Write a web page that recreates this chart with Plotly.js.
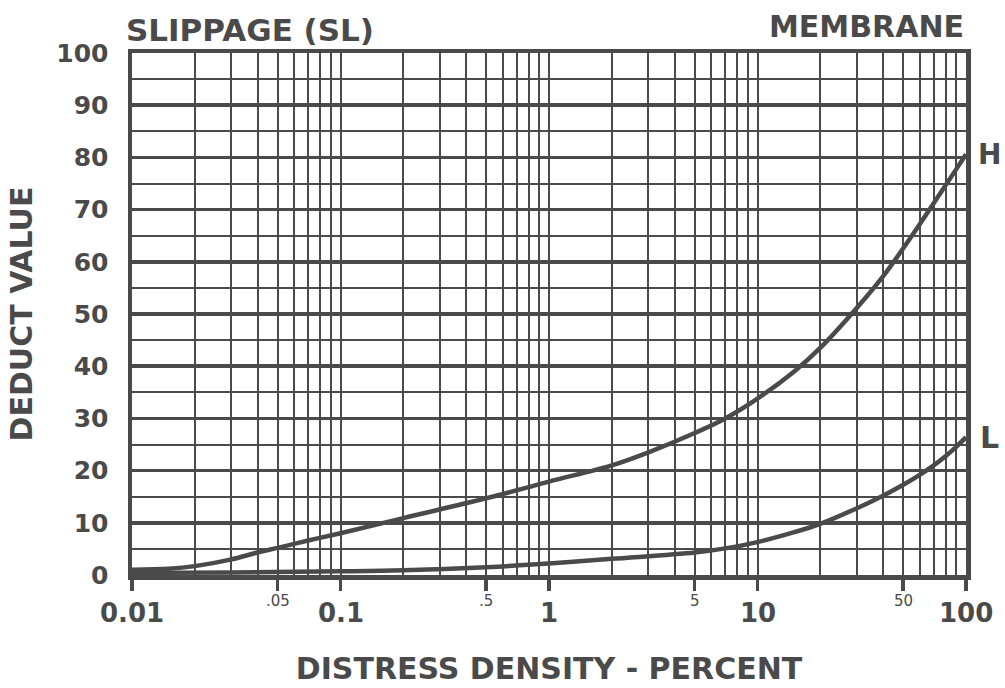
<!DOCTYPE html>
<html>
<head>
<meta charset="utf-8">
<script src="https://cdn.plot.ly/plotly-3.0.1.min.js"></script>
<style>
  html, body { margin: 0; padding: 0; background: #ffffff; }
  #chart { width: 1005px; height: 688px; }
</style>
</head>
<body>
<div id="chart"></div>
<script>
// ---- Data ----
const highDensity = [0.01, 0.015, 0.02, 0.03, 0.04, 0.05, 0.07, 0.1, 0.2, 0.5, 1, 2, 3, 5, 7, 10, 15, 20, 30, 40, 50, 60, 70, 80, 90, 100];
const highDeduct  = [1.0, 1.2, 1.7, 3.0, 4.3, 5.2, 6.6, 8.0, 10.9, 14.7, 17.9, 21.0, 23.5, 27.2, 30.0, 33.8, 39.0, 43.5, 51.2, 57.2, 62.6, 67.2, 71.2, 74.7, 77.8, 80.6];

const lowDensity = [0.01, 0.03, 0.1, 0.2, 0.5, 1, 2, 5, 7, 10, 15, 20, 30, 40, 50, 60, 70, 80, 90, 100];
const lowDeduct  = [0.4, 0.5, 0.7, 0.9, 1.5, 2.2, 3.1, 4.3, 5.1, 6.3, 8.2, 9.8, 12.8, 15.2, 17.3, 19.2, 21.0, 22.8, 24.6, 26.4];

const seriesNames = ['H', 'L'];

const xTickVals  = [0.01, 0.05, 0.1, 0.5, 1, 5, 10, 50, 100];
const xTickText  = ['0.01', '.05', '0.1', '.5', '1', '5', '10', '50', '100'];
const xTickMajor = [true, false, true, false, true, false, true, false, true];

const yTickVals = [0, 10, 20, 30, 40, 50, 60, 70, 80, 90, 100];
const yTickText = ['0', '10', '20', '30', '40', '50', '60', '70', '80', '90', '100'];

const chartTitle  = 'SLIPPAGE (SL)';
const chartSub    = 'MEMBRANE';
const xTitle      = 'DISTRESS DENSITY - PERCENT';
const yTitle      = 'DEDUCT VALUE';

// ---- Styling ----
const INK = '#4a4a4a';
const FONT = 'DejaVu Sans, Liberation Sans, sans-serif';

// minor log grid positions (2..9 in every decade, except labelled ones)
const decades = [0.01, 0.1, 1, 10];
const minorMult = [2, 3, 4, 6, 7, 8, 9];
const xMinor = [];
decades.forEach(d => minorMult.forEach(m => xMinor.push(+(d * m).toPrecision(3))));

const traces = [
  { x: highDensity, y: highDeduct, name: seriesNames[0], mode: 'lines',
    line: { color: INK, width: 4.5, shape: 'spline', smoothing: 1 }, hoverinfo: 'x+y' },
  { x: lowDensity, y: lowDeduct, name: seriesNames[1], mode: 'lines',
    line: { color: INK, width: 4.5, shape: 'spline', smoothing: 1 }, hoverinfo: 'x+y' }
];

const annotations = [];
xTickVals.forEach((v, i) => {
  const major = xTickMajor[i];
  annotations.push({
    xref: 'x', yref: 'paper', x: Math.log10(v), y: 0,
    yanchor: 'middle', xanchor: 'center',
    yshift: major ? -38 : -26,
    text: major ? '<b>' + xTickText[i] + '</b>' : xTickText[i],
    showarrow: false,
    font: { family: FONT, size: major ? 26 : 15, color: INK }
  });
});
annotations.push({
  xref: 'paper', yref: 'paper', x: 1, y: 1, xanchor: 'right', yanchor: 'bottom', yshift: 7,
  text: '<b>' + chartSub + '</b>', showarrow: false,
  font: { family: FONT, size: 30, color: INK }
});
annotations.push({
  xref: 'paper', yref: 'y', x: 1, y: highDeduct[highDeduct.length - 1], xanchor: 'left', yanchor: 'middle', xshift: 10,
  text: '<b>' + seriesNames[0] + '</b>', showarrow: false,
  font: { family: FONT, size: 28, color: INK }
});
annotations.push({
  xref: 'paper', yref: 'y', x: 1, y: lowDeduct[lowDeduct.length - 1], xanchor: 'left', yanchor: 'middle', xshift: 12,
  text: '<b>' + seriesNames[1] + '</b>', showarrow: false,
  font: { family: FONT, size: 30, color: INK }
});

const layout = {
  width: 1005, height: 688,
  paper_bgcolor: '#ffffff', plot_bgcolor: '#ffffff',
  margin: { l: 132, r: 39, t: 53, b: 113, pad: 0 },
  showlegend: false,
  title: {
    text: '<b>' + chartTitle + '</b>',
    xref: 'container', yref: 'container',
    x: 126 / 1005, xanchor: 'left',
    y: 1 - 30 / 688, yanchor: 'middle',
    font: { family: FONT, size: 31, color: INK }
  },
  xaxis: {
    type: 'log', range: [-2, 2], autorange: false,
    tickmode: 'array', tickvals: xTickVals, ticktext: xTickText,
    showticklabels: false,
    ticks: 'outside', ticklen: 11, tickwidth: 3.5, tickcolor: INK,
    showgrid: true, gridcolor: INK, gridwidth: 2,
    minor: { tickmode: 'array', tickvals: xMinor, showgrid: true, gridcolor: INK, gridwidth: 2, ticks: '' },
    showline: true, linecolor: INK, linewidth: 4.5, mirror: true,
    zeroline: false, automargin: false,
    title: { text: '<b>' + xTitle + '</b>', font: { family: FONT, size: 30, color: INK }, standoff: 70 }
  },
  yaxis: {
    range: [0, 100], autorange: false,
    tickmode: 'array', tickvals: yTickVals, ticktext: yTickText,
    ticks: '', ticklabelstandoff: 14,
    tickfont: { family: FONT, size: 25, color: INK, weight: 'bold' },
    showgrid: true, gridcolor: INK, gridwidth: 3.5,
    minor: { dtick: 5, showgrid: true, gridcolor: INK, gridwidth: 2, ticks: '' },
    showline: true, linecolor: INK, linewidth: 4.5, mirror: true,
    zeroline: false, automargin: false,
    title: { text: '<b>' + yTitle + '</b>', font: { family: FONT, size: 30, color: INK }, standoff: 16 }
  },
  annotations: annotations
};

Plotly.newPlot('chart', traces, layout, { displayModeBar: false, staticPlot: true });
</script>
</body>
</html>
